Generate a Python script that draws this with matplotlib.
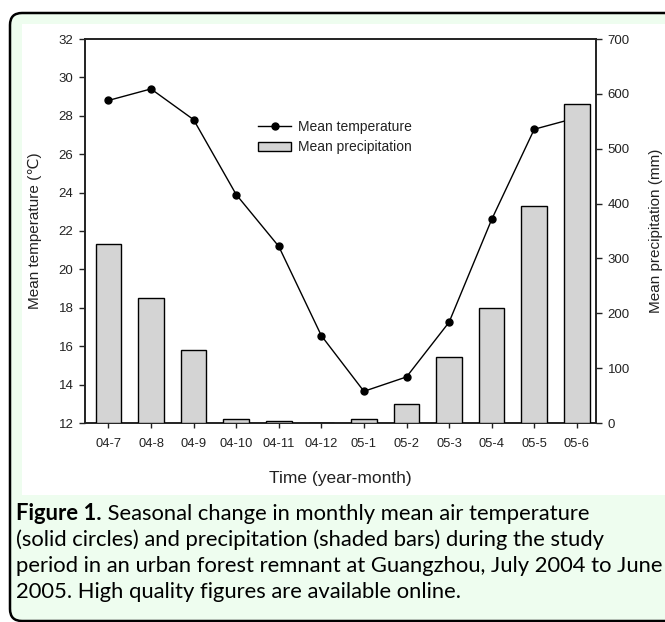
import matplotlib
matplotlib.use("Agg")
import matplotlib.pyplot as plt
from matplotlib.patches import FancyBboxPatch, Rectangle
from matplotlib.lines import Line2D
from matplotlib.patches import Patch

months = ["04-7", "04-8", "04-9", "04-10", "04-11", "04-12",
          "05-1", "05-2", "05-3", "05-4", "05-5", "05-6"]
temperature = [28.8, 29.4, 27.8, 23.9, 21.2, 16.55, 13.65, 14.4, 17.25, 22.6, 27.3, 27.9]
precipitation = [326, 227, 133, 7, 4, 0, 7, 34, 121, 210, 396, 582]

temp_ticks = [12, 14, 16, 18, 20, 22, 24, 26, 28, 30, 32]
prec_ticks = [0, 100, 200, 300, 400, 500, 600, 700]

caption_bold = "Figure 1."
caption_lines = [
    " Seasonal change in monthly mean air temperature",
    "(solid circles) and precipitation (shaded bars) during the study",
    "period in an urban forest remnant at Guangzhou, July 2004 to June",
    "2005. High quality figures are available online.",
]

W, H = 665, 622
fig = plt.figure(figsize=(W / 100, H / 100), dpi=100)
fig.patch.set_facecolor("white")

# background panel in pixel coordinates
bg = fig.add_axes([0, 0, 1, 1], zorder=-5)
bg.set_xlim(0, W)
bg.set_ylim(H, 0)
bg.axis("off")
bg.add_patch(FancyBboxPatch((10, 13), 720, 608, boxstyle="round,pad=0,rounding_size=12",
                            facecolor="#eefdef", edgecolor="black", linewidth=1.8))
bg.add_patch(Rectangle((22, 24), 700, 471, facecolor="white", edgecolor="none"))

fontfam = ["Liberation Sans", "DejaVu Sans"]
tick_color = "#222222"

ax = fig.add_axes([85 / W, 1 - 423 / H, (596 - 85) / W, (423 - 39) / H])
ax.set_facecolor("none")
x = list(range(len(months)))
ax.plot(x, temperature, color="black", linewidth=1.0, marker="o", markersize=5,
        markerfacecolor="black", markeredgecolor="black", zorder=2)
ax.set_ylim(12, 32)
ax.set_xlim(-0.55, 11.45)
ax.set_yticks(temp_ticks)
ax.set_xticks(x)
ax.set_xticklabels(months)

ax2 = ax.twinx()
ax2.bar(x, precipitation, width=0.6, color="#d4d4d4", edgecolor="black", linewidth=1.0, zorder=3)
ax2.set_ylim(0, 700)
ax2.set_yticks(prec_ticks)

for a in (ax, ax2):
    for s in a.spines.values():
        s.set_color("#222222")
        s.set_linewidth(1.2)
ax.tick_params(axis="y", direction="out", length=4.3, width=1.0, pad=4, labelsize=9.5,
               colors=tick_color)
ax.tick_params(axis="x", direction="out", length=3.6, width=1.0, pad=7, labelsize=9.3,
               colors=tick_color)
ax2.tick_params(axis="y", direction="out", length=4.3, width=1.0, pad=4, labelsize=9.5,
                colors=tick_color)
for lab in ax.get_xticklabels() + ax.get_yticklabels() + ax2.get_yticklabels():
    lab.set_family(fontfam)

ax.set_ylabel("Mean temperature (\u2103)", fontsize=11, family=fontfam, color=tick_color)
ax.yaxis.set_label_coords((35 - 85) / 511, 0.5)
ax2.set_ylabel("Mean precipitation (mm)", fontsize=11, family=fontfam, color=tick_color)
ax2.yaxis.set_label_coords((656 - 85) / 511, 0.5)
ax2.yaxis.label.set_verticalalignment("center")
ax.yaxis.label.set_verticalalignment("center")
ax.set_xlabel("Time (year-month)", fontsize=12.5, family=fontfam, color=tick_color)
ax.xaxis.set_label_coords(0.5, (423 - 478) / 384)
ax.xaxis.label.set_verticalalignment("center")

handles = [Line2D([0], [0], color="black", linewidth=1.0, marker="o", markersize=5),
           Patch(facecolor="#d4d4d4", edgecolor="black", linewidth=1.0)]
leg = ax2.legend(handles, ["Mean temperature", "Mean precipitation"],
                 loc="upper left", bbox_to_anchor=(258 / W, 1 - 120 / H),
                 bbox_transform=fig.transFigure, frameon=False, borderpad=0,
                 handlelength=2.4, handletextpad=0.5, labelspacing=0.45,
                 prop={"family": fontfam, "size": 10}, borderaxespad=0)
for t in leg.get_texts():
    t.set_color(tick_color)

# caption
cap_font = ["Lato", "DejaVu Sans"]
renderer = fig.canvas.get_renderer()
probe = bg.text(0, 0, caption_lines[2], fontsize=13, family=cap_font)
wpx = probe.get_window_extent(renderer).width
probe.remove()
cap_size = 13 * 647 / wpx

baselines = [520, 546, 572, 598]
tb = bg.text(16, baselines[0], caption_bold, fontsize=cap_size, family=cap_font,
             fontweight="bold", va="baseline", ha="left", color="black")
bw = tb.get_window_extent(renderer).width
bg.text(16 + bw, baselines[0], caption_lines[0], fontsize=cap_size, family=cap_font,
        va="baseline", ha="left", color="black")
for yb, line in zip(baselines[1:], caption_lines[1:]):
    bg.text(16, yb, line, fontsize=cap_size, family=cap_font, va="baseline", ha="left",
            color="black")

fig.savefig("out.png", dpi=100)
